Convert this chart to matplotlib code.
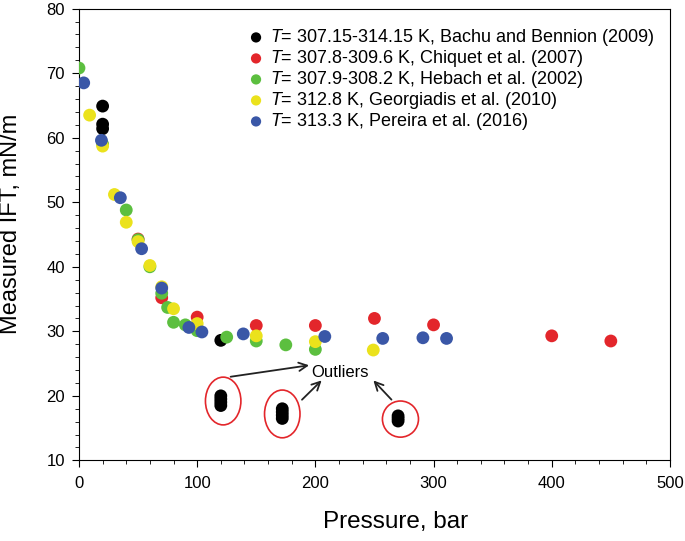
import matplotlib
matplotlib.use("Agg")
import matplotlib.pyplot as plt
from matplotlib.patches import Ellipse

plt.rcParams["font.family"] = ["Liberation Sans", "DejaVu Sans"]
plt.rcParams["mathtext.fontset"] = "custom"
plt.rcParams["mathtext.rm"] = "Liberation Sans"
plt.rcParams["mathtext.it"] = "Liberation Sans:italic"

BLACK = "#000000"
RED = "#e3262b"
GREEN = "#5cbf3f"
YELLOW = "#ebe21c"
BLUE = "#3a57a7"

# Bachu and Bennion (2009)
bachu_p = [20, 20, 20, 120, 120, 120, 120, 120, 172, 172, 172, 172, 270, 270, 270]
bachu_ift = [64.9, 62.1, 61.4, 28.6, 20.0, 19.5, 19.0, 18.5, 18.0, 17.5, 17.0, 16.5, 16.9, 16.5, 16.1]

# Chiquet et al. (2007)
chiquet_p = [50, 70, 100, 150, 200, 250, 300, 400, 450]
chiquet_ift = [44.3, 35.2, 32.2, 30.9, 30.9, 32.0, 31.0, 29.3, 28.5]

# Hebach et al. (2002)
hebach_p = [0, 20, 40, 50, 60, 70, 75, 80, 90, 100, 125, 150, 175, 200]
hebach_ift = [70.8, 59.0, 48.8, 44.2, 40.0, 35.9, 33.7, 31.4, 31.0, 30.1, 29.1, 28.5, 27.9, 27.2]

# Georgiadis et al. (2010)
georg_p = [9, 20, 30, 40, 50, 60, 70, 80, 100, 150, 200, 249]
georg_ift = [63.5, 58.7, 51.2, 46.9, 43.9, 40.2, 36.9, 33.5, 31.2, 29.3, 28.4, 27.1]

# Pereira et al. (2016)
pereira_p = [4, 19, 35, 53, 70, 93, 104, 139, 208, 257, 291, 311]
pereira_ift = [68.5, 59.6, 50.7, 42.8, 36.7, 30.6, 29.9, 29.6, 29.2, 28.9, 29.0, 28.9]

series = [
    (bachu_p, bachu_ift, BLACK, "$T$= 307.15-314.15 K, Bachu and Bennion (2009)"),
    (chiquet_p, chiquet_ift, RED, "$T$= 307.8-309.6 K, Chiquet et al. (2007)"),
    (hebach_p, hebach_ift, GREEN, "$T$= 307.9-308.2 K, Hebach et al. (2002)"),
    (georg_p, georg_ift, YELLOW, "$T$= 312.8 K, Georgiadis et al. (2010)"),
    (pereira_p, pereira_ift, BLUE, "$T$= 313.3 K, Pereira et al. (2016)"),
]

fig = plt.figure(figsize=(6.85, 5.41), dpi=100)
ax = fig.add_axes([0.1153, 0.149, 0.8627, 0.835])

for p, v, c, lab in series:
    ax.scatter(p, v, s=85, color=c, edgecolors="none", label=lab, zorder=3)

# outlier ellipses
for cx, cy, w, h in [(122, 19.2, 30, 7.4), (172, 17.2, 30, 7.4), (272, 16.4, 30.5, 5.6)]:
    ax.add_patch(Ellipse((cx, cy), w, h, fill=False, edgecolor=RED, linewidth=1.2, zorder=4))

ax.text(221, 23.6, "Outliers", fontsize=12, ha="center", va="center")
arrow_kw = dict(arrowstyle="->", color="#222222", lw=1.3, mutation_scale=15)
ax.annotate("", xy=(197, 24.8), xytext=(126, 22.9), arrowprops=arrow_kw)
ax.annotate("", xy=(207, 22.7), xytext=(187, 19.1), arrowprops=arrow_kw)
ax.annotate("", xy=(247.5, 22.7), xytext=(266, 19.1), arrowprops=arrow_kw)

ax.set_xlim(0, 500)
ax.set_ylim(10, 80)
ax.set_xticks(range(0, 501, 100))
ax.set_xticks(range(0, 501, 20), minor=True)
ax.set_yticks(range(10, 81, 10))
ax.set_yticks(range(10, 81, 2), minor=True)
ax.tick_params(which="both", direction="out", labelsize=12)
ax.tick_params(which="major", length=5)
ax.tick_params(which="minor", length=3)
ax.tick_params(axis="x", pad=6)
ax.tick_params(axis="y", pad=5)

ax.set_xlabel("Pressure, bar", fontsize=17.5)
ax.set_ylabel("Measured IFT, mN/m", fontsize=17)
ax.xaxis.set_label_coords(0.535, -0.112)
ax.yaxis.set_label_coords(-0.097, 0.523)

ax.legend(loc="upper left", bbox_to_anchor=(0.266, 0.987), frameon=False, fontsize=13,
          handlelength=0.8, handletextpad=0.4, labelspacing=0.0, borderpad=0.2,
          markerscale=0.8)

fig.savefig("out.png", dpi=100)
